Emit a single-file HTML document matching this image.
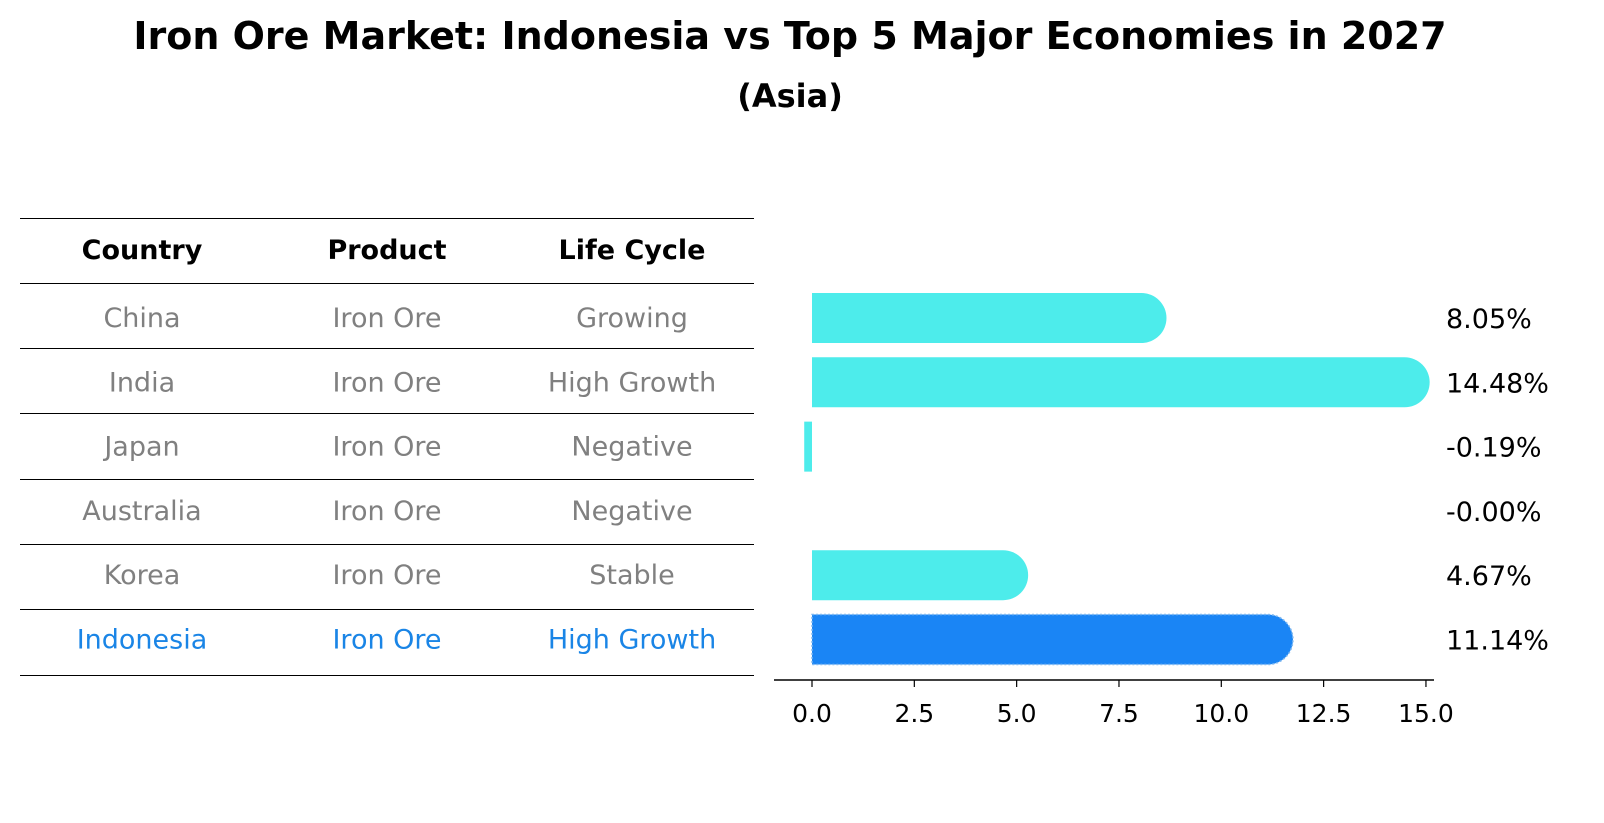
<!DOCTYPE html>
<html><head><meta charset="utf-8"><style>
html,body{margin:0;padding:0;background:#fff;overflow:hidden;width:1604px;height:823px;font-family:"DejaVu Sans","Liberation Sans",sans-serif;}
svg{display:block;}
</style></head><body>
<svg width="1604" height="823" viewBox="0 0 1604 823" xmlns="http://www.w3.org/2000/svg" font-family="DejaVu Sans, Liberation Sans, sans-serif">
<text x="790" y="49" text-anchor="middle" font-size="38" font-weight="bold">Iron Ore Market: Indonesia vs Top 5 Major Economies in 2027</text>
<text x="790" y="107" text-anchor="middle" font-size="32" font-weight="bold">(Asia)</text>
<g id="table"></g>
<g id="bars"></g>
</svg>
<script>
const countries=["China","India","Japan","Australia","Korea","Indonesia"];
const products=["Iron Ore","Iron Ore","Iron Ore","Iron Ore","Iron Ore","Iron Ore"];
const lifecycle=["Growing","High Growth","Negative","Negative","Stable","High Growth"];
const growth=[8.05,14.48,-0.19,-0.00,4.67,11.14];
const ticks=[0,2.5,5,7.5,10,12.5,15];
const NS="http://www.w3.org/2000/svg";
function mk(t,a,p){const e=document.createElementNS(NS,t);for(const k in a)e.setAttribute(k,a[k]);p.appendChild(e);return e;}
const xs=v=>812+v*40.93;
const rowY=i=>318+i*64.3;
const tb=document.getElementById('table');
const lines=[218,283,348,413,479,544,609,675];
lines.forEach((y,i)=>{const l=mk('line',{x1:20,x2:754,y1:y+0.5,y2:y+0.5,stroke:'#000','stroke-width':1},tb);

});
const cx=[142,387,632];
["Country","Product","Life Cycle"].forEach((h,j)=>{const t=mk('text',{x:cx[j],y:259,'text-anchor':'middle','font-size':27,'font-weight':'bold'},tb);t.textContent=h;

});
countries.forEach((c,i)=>{const col=c==="Indonesia"?"#1a85e6":"#808080";
[c,products[i],lifecycle[i]].forEach((v,j)=>{const t=mk('text',{x:cx[j],y:rowY(i)+9,'text-anchor':'middle','font-size':27,fill:col},tb);t.textContent=v;

});});
const g=document.getElementById('bars');
const ax=mk('line',{x1:774,x2:1434,y1:680,y2:680,stroke:'#000','stroke-width':1.5},g);


ticks.forEach(t=>{const l=mk('line',{x1:xs(t),x2:xs(t),y1:680,y2:687,stroke:'#000','stroke-width':1.2},g);


const tx=mk('text',{x:xs(t),y:722,'text-anchor':'middle','font-size':25},g);tx.textContent=t.toFixed(1);

});
growth.forEach((v,i)=>{const y=rowY(i),h=50,r=25;const col=countries[i]==="Indonesia"?"#1a85f5":"#4deceb";
const x0=xs(0),x1=xs(v);let d;
if(v>0.5){d=`M${x0},${y-h/2}H${x1}A${r},${r} 0 0 1 ${x1},${y+h/2}H${x0}Z`;}
else{const w=Math.abs(x1-x0);d=`M${Math.min(x0,x1)},${y-h/2}h${w}v${h}h${-w}Z`;}
const p=mk('path',{d:d,fill:col},g);
if(countries[i]==="Indonesia"){p.setAttribute('stroke','#7fb8f0');p.setAttribute('stroke-dasharray','2,2');p.setAttribute('stroke-width','1.5');}


const t=mk('text',{x:1446,y:y+10,'font-size':27},g);t.textContent=v.toFixed(2)+'%';
if(i===3)t.textContent='-'+Math.abs(v).toFixed(2)+'%';

});
</script>
</body></html>
